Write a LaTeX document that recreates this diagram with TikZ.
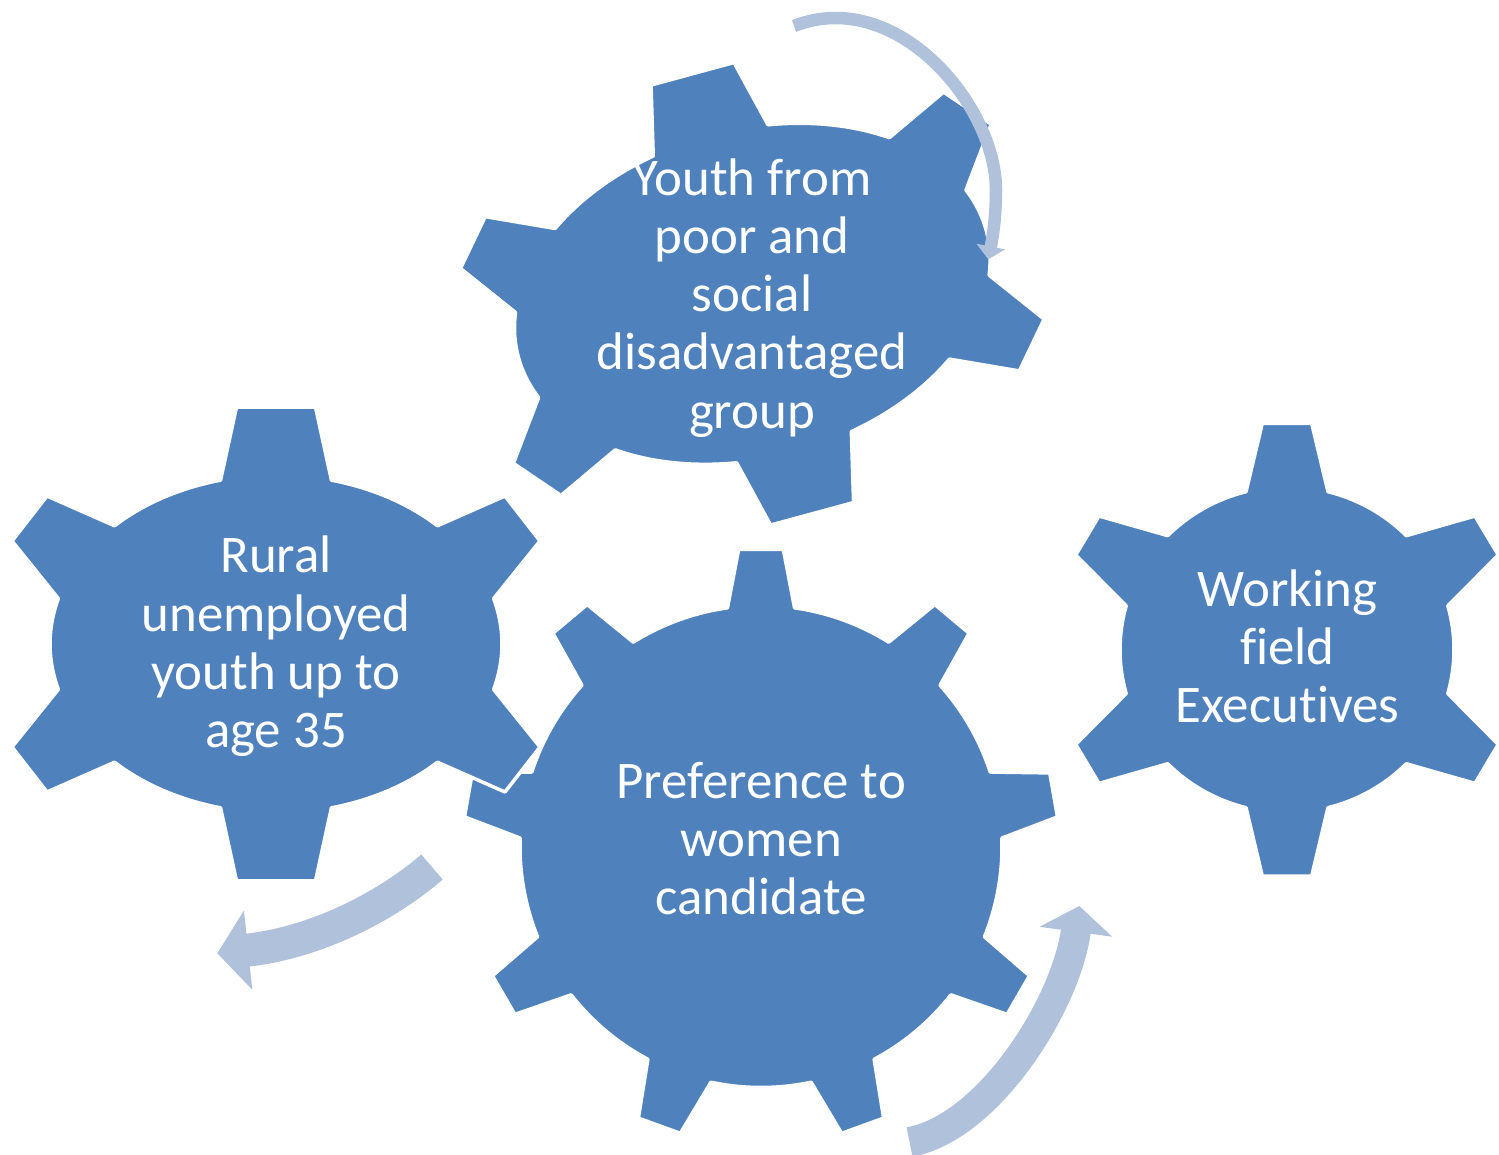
\documentclass[tikz,border=0pt]{standalone}
\usepackage{fontspec}
\setmainfont{Carlito}[Ligatures={TeX,NoCommon}]
\usetikzlibrary{arrows.meta}
\definecolor{gearfill}{HTML}{4F81BD}
\definecolor{flowfill}{HTML}{B0C1DC}

% six-tooth gear round (0,0): radii #1/#2, top tip #3/#4, side tips #5/#6 and #7/#8
\newcommand{\sixgear}[8]{%
  \filldraw[gear] (-104.2:#1 and #2)
    -- (-#3,-#4) -- (#3,-#4) -- (-75.8:#1 and #2)
    arc[start angle=-75.8, end angle=-44.4, x radius=#1, y radius=#2]
    -- (#5,-#6) -- (#7,-#8) -- (-15.6:#1 and #2)
    arc[start angle=-15.6, end angle=15.6, x radius=#1, y radius=#2]
    -- (#7,#8) -- (#5,#6) -- (44.4:#1 and #2)
    arc[start angle=44.4, end angle=75.8, x radius=#1, y radius=#2]
    -- (#3,#4) -- (-#3,#4) -- (104.2:#1 and #2)
    arc[start angle=104.2, end angle=135.6, x radius=#1, y radius=#2]
    -- (-#5,#6) -- (-#7,#8) -- (164.4:#1 and #2)
    arc[start angle=164.4, end angle=195.6, x radius=#1, y radius=#2]
    -- (-#7,-#8) -- (-#5,-#6) -- (224.4:#1 and #2)
    arc[start angle=224.4, end angle=255.8, x radius=#1, y radius=#2]
    -- cycle;}

\begin{document}
\begin{tikzpicture}[
  x=0.02cm, y=-0.02cm,
  gear/.style={fill=gearfill, draw=white, line width=2pt, line join=round},
  geartext/.style={text=white, align=center, inner sep=0pt,
    font=\fontsize{30.1}{33.1}\selectfont},
  flow/.style={draw=flowfill}
]
\useasboundingbox (0,0) rectangle (1499,1155);

% middle gear, nine teeth
\begin{scope}[shift={(761,846.5)}]
\filldraw[gear] (-98:241)
  \foreach \k [evaluate=\k as \a using -90+40*\k] in {0,...,8}{
    -- ({\a-4.3}:298) -- ({\a+4.3}:298) -- ({\a+8}:241)
    arc[start angle=\a+8, end angle=\a+32, radius=241]
  } -- cycle;
\end{scope}

% left gear
\begin{scope}[shift={(276,644)}]
\sixgear{226}{169}{39.5}{237}{229}{148}{264}{103}
\end{scope}

% top gear, turned
\begin{scope}[shift={(752.3,293.8)}, rotate=15.2]
\sixgear{242.4}{164}{43}{228}{237.5}{144.5}{275}{101}
\end{scope}

% right gear
\begin{scope}[shift={(1287,649.7)}]
\sixgear{167}{163}{24.7}{226.4}{188}{133.7}{211.3}{94.7}
\end{scope}

\node[geartext] (youth) at (752,298) {Youth from\\poor and\\social\\disadvantaged\\group};
\node[geartext] (rural) at (276,646.4) {Rural\\unemployed\\youth up to\\age 35};
\node[geartext] (women) at (761,838.6) {Preference to\\women\\candidate};
\node[geartext] (field) at (1287.5,646.2) {Working\\field\\Executives};

% turning arrows
\coordinate (toptail) at (794,26);
\coordinate (toptip) at (988.3,259.3);
\coordinate (lefttail) at (432,867);
\coordinate (lefttip) at (217.3,953.3);
\coordinate (righttail) at (909.5,1142);
\coordinate (righttip) at (1079.3,906);

\draw[flow, line width=0.25cm, -{Triangle[length=0.26cm, width=0.57cm]}]
  (toptail) .. controls (896,-14) and (996,105) .. (996,190)
  .. controls (996,222) and (991.2,244.6) .. (toptip);
\draw[flow, line width=0.66cm, -{Triangle[length=0.62cm, width=1.56cm]}]
  (lefttail) .. controls (382.8,909.4) and (311.8,943.4) .. (lefttip);
\draw[flow, line width=0.6cm, -{Triangle[length=0.52cm, width=1.44cm]}]
  (righttail) .. controls (988,1128) and (1065.8,1005.1) .. (righttip);

\end{tikzpicture}
\end{document}
